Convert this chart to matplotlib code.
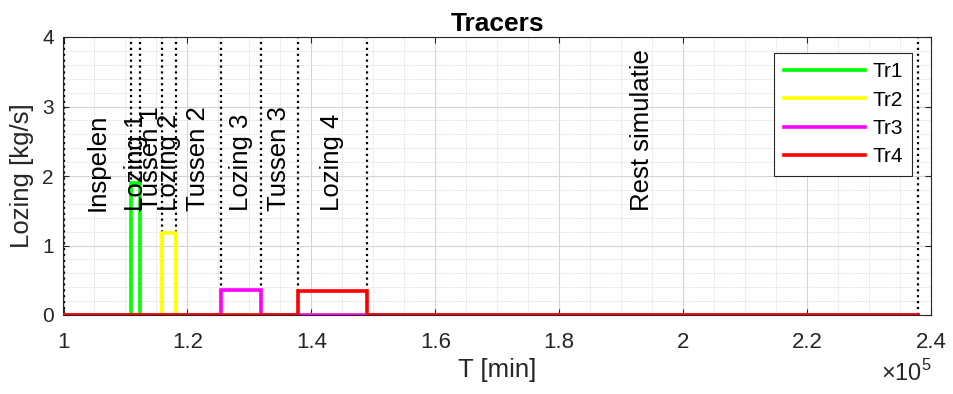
import matplotlib

matplotlib.use("Agg")
import matplotlib.pyplot as plt
import numpy as np
from matplotlib.ticker import FuncFormatter, MultipleLocator

plt.rcParams["font.family"] = ["Liberation Sans", "DejaVu Sans"]
plt.rcParams["mathtext.fontset"] = "custom"
plt.rcParams["mathtext.rm"] = "Liberation Sans"

# phase boundaries of the simulation [min]
phase_edges = [100070, 110890, 112350, 115850, 118110, 125420, 131880, 137800, 148980, 237900]
phase_names = [
    "Inspelen", "Lozing 1", "Tussen 1", "Lozing 2", "Tussen 2",
    "Lozing 3", "Tussen 3", "Lozing 4", "Rest simulatie",
]

# tracer discharges [kg/s], one per discharge phase
tracer_names = ["Tr1", "Tr2", "Tr3", "Tr4"]
tracer_rates = [1.9, 1.18, 0.36, 0.35]
tracer_phase = [1, 3, 5, 7]  # index of the phase in which each tracer is discharged
tracer_colors = ["#00ff00", "#ffff00", "#ff00ff", "#ff0000"]

label_y = 1.5
axis_color = "#262626"

W, H = 954, 394
fig = plt.figure(figsize=(W / 100, H / 100), dpi=100)
ax = fig.add_axes([63.5 / W, 79 / H, (931 - 63.5) / W, (315 - 37) / H])

ax.set_xlim(1.0e5, 2.4e5)
ax.set_ylim(0, 4)

ax.xaxis.set_major_locator(MultipleLocator(0.2e5))
ax.xaxis.set_minor_locator(MultipleLocator(0.05e5))
ax.yaxis.set_major_locator(MultipleLocator(1))
ax.yaxis.set_minor_locator(MultipleLocator(0.2))
ax.xaxis.set_major_formatter(FuncFormatter(lambda v, _: f"{v / 1e5:g}"))

ax.grid(which="major", color="#d4d4d4", linewidth=0.8, linestyle="-")
ax.grid(which="minor", color="#e2e2e2", linewidth=0.6, linestyle=(0, (2, 1)))
ax.set_axisbelow(True)

ax.tick_params(which="major", direction="in", length=4, width=0.8, top=True, right=True,
               colors=axis_color)
ax.tick_params(axis="x", which="major", labelsize=16, pad=12)
ax.tick_params(axis="y", which="major", labelsize=15, pad=7)
ax.tick_params(which="minor", length=0, top=True, right=True)
for spine in ax.spines.values():
    spine.set_color(axis_color)
    spine.set_linewidth(0.8)

# phase boundaries
for edge in phase_edges:
    ax.plot([edge, edge], [0, 4], color="black", linestyle=":", linewidth=1.6, zorder=2)

# step-shaped discharge of every tracer
t_start, t_end = phase_edges[0], phase_edges[-1]
for name, rate, phase, color in zip(tracer_names, tracer_rates, tracer_phase, tracer_colors):
    t_on, t_off = phase_edges[phase], phase_edges[phase + 1]
    t = [t_start, t_on, t_on, t_off, t_off, t_end]
    q = [0, 0, rate, rate, 0, 0]
    ax.plot(t, q, color=color, linewidth=2.6, label=name, zorder=3, solid_joinstyle="miter")

# phase names, centred in their interval
for i, name in enumerate(phase_names):
    mid = 0.5 * (phase_edges[i] + phase_edges[i + 1])
    ax.text(mid, label_y, name, rotation=90, ha="center", va="bottom",
            fontsize=18.5, color="black", zorder=4)

ax.set_title("Tracers", fontsize=19, fontweight="bold", pad=4)
ax.set_xlabel("T [min]", fontsize=18.5, color=axis_color, labelpad=4)
ax.set_ylabel("Lozing [kg/s]", fontsize=18.5, color=axis_color, labelpad=6)
fig.text(932 / W, 1 - 386 / H, r"$\times10^{5}$", ha="right", va="bottom",
         fontsize=17, color=axis_color)

leg = ax.legend(loc="upper right", bbox_to_anchor=(912 / W, 1 - 53 / H),
                bbox_transform=fig.transFigure, borderaxespad=0, fontsize=15,
                frameon=True, fancybox=False, handlelength=3.9, handletextpad=0.35,
                labelspacing=0.45, borderpad=0.45)
leg.get_frame().set_edgecolor(axis_color)
leg.get_frame().set_linewidth(0.8)
leg.get_frame().set_alpha(1)
leg.set_zorder(5)

fig.savefig("out.png", dpi=100)
